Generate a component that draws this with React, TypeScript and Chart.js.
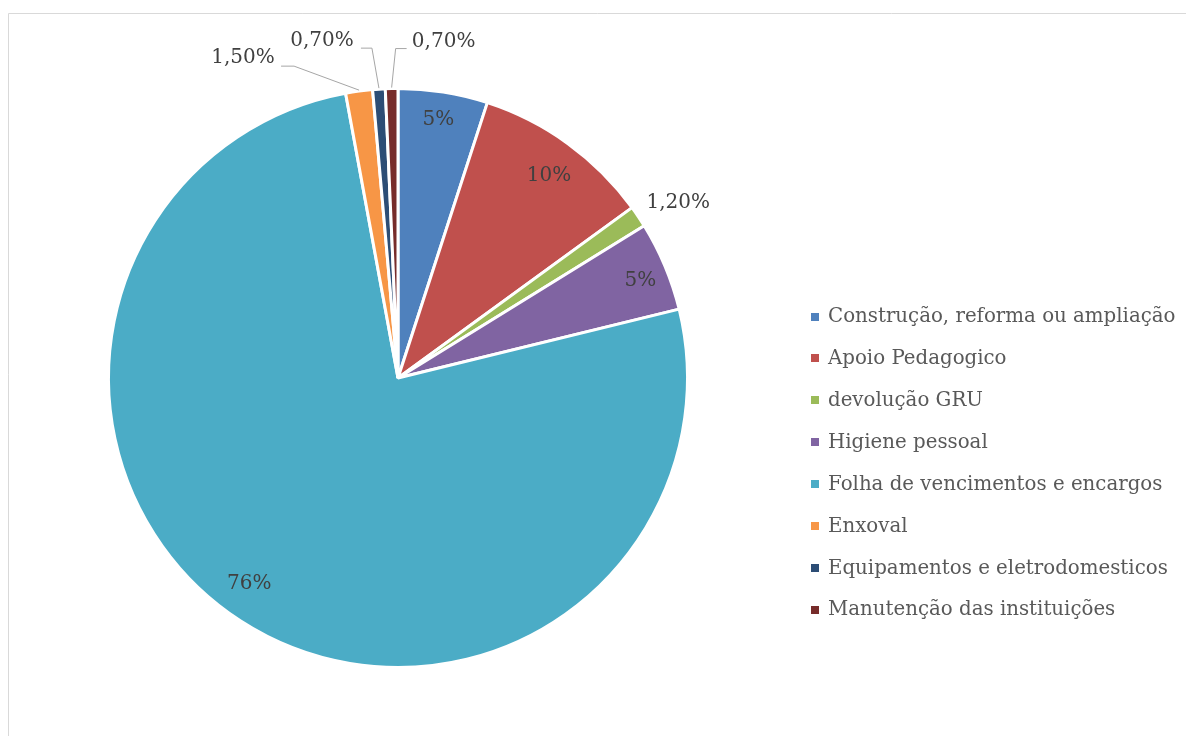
import React, { useEffect, useRef } from "react";
import { Chart, registerables } from "chart.js";

Chart.register(...registerables);

const categories = [
  "Construção, reforma ou ampliação",
  "Apoio Pedagogico",
  "devolução GRU",
  "Higiene pessoal",
  "Folha de vencimentos e encargos",
  "Enxoval",
  "Equipamentos e eletrodomesticos",
  "Manutenção das instituições",
];
const values = [5, 10, 1.2, 5, 76, 1.5, 0.7, 0.7];
const valueLabels = ["5%", "10%", "1,20%", "5%", "76%", "1,50%", "0,70%", "0,70%"];
const colors = ["#4F81BD", "#C0504D", "#9BBB59", "#8064A2", "#4BACC6", "#F79646", "#2C4D75", "#772C2A"];

const FONT = '"DejaVu Serif", serif';
const TEXT_COLOR = "#404040";

// label placement: inside at fraction of radius, or outside offset from arc edge with optional leader
type Place =
  | { kind: "in"; r: number; dx: number; dy: number }
  | { kind: "out"; dx: number; dy: number; leader?: { ax: number; ay: number; ex: number } };

const placements: Place[] = [
  { kind: "in", r: 0.89, dx: 0, dy: -4 },
  { kind: "in", r: 0.87, dx: 3, dy: 2 },
  { kind: "out", dx: 40, dy: -14 },
  { kind: "in", r: 0.9, dx: 2, dy: 4 },
  { kind: "in", r: 0.87, dx: -12, dy: -6 },
  { kind: "out", dx: -116, dy: -33, leader: { ax: 38, ay: 8, ex: 13 } },
  { kind: "out", dx: -57, dy: -48, leader: { ax: 39, ay: 7, ex: 11 } },
  { kind: "out", dx: 52, dy: -47, leader: { ax: -37, ay: 7, ex: -11 } },
];

const framePlugin = {
  id: "frame",
  beforeDraw(chart: any) {
    const ctx = chart.ctx;
    ctx.save();
    ctx.fillStyle = "#ffffff";
    ctx.fillRect(0, 0, chart.width, chart.height);
    ctx.strokeStyle = "#d9d9d9";
    ctx.lineWidth = 1;
    ctx.beginPath();
    ctx.moveTo(8.5, chart.height);
    ctx.lineTo(8.5, 13.5);
    ctx.lineTo(chart.width, 13.5);
    ctx.stroke();
    ctx.restore();
  },
};

const labelPlugin = {
  id: "sliceLabels",
  afterDatasetsDraw(chart: any) {
    const ctx = chart.ctx;
    const meta = chart.getDatasetMeta(0);
    ctx.save();
    ctx.font = `20px ${FONT}`;
    ctx.fillStyle = TEXT_COLOR;
    ctx.textAlign = "center";
    ctx.textBaseline = "middle";
    meta.data.forEach((arc: any, i: number) => {
      const p = arc.getProps(["x", "y", "startAngle", "endAngle", "outerRadius"], true);
      const mid = (p.startAngle + p.endAngle) / 2;
      const pl = placements[i];
      const text = valueLabels[i];
      if (pl.kind === "in") {
        const r = p.outerRadius * pl.r;
        ctx.fillText(text, p.x + r * Math.cos(mid) + pl.dx, p.y + r * Math.sin(mid) + pl.dy);
      } else {
        const exPt = p.x + p.outerRadius * Math.cos(mid);
        const eyPt = p.y + p.outerRadius * Math.sin(mid);
        const lx = exPt + pl.dx;
        const ly = eyPt + pl.dy;
        ctx.fillText(text, lx, ly);
        if (pl.leader) {
          const ax = lx + pl.leader.ax;
          const ay = ly + pl.leader.ay;
          ctx.save();
          ctx.strokeStyle = "#a6a6a6";
          ctx.lineWidth = 1;
          ctx.beginPath();
          ctx.moveTo(ax, ay);
          ctx.lineTo(ax + pl.leader.ex, ay);
          ctx.lineTo(exPt, eyPt - 1);
          ctx.stroke();
          ctx.restore();
        }
      }
    });
    ctx.restore();
  },
};

const legendPlugin = {
  id: "sideLegend",
  afterDraw(chart: any) {
    const ctx = chart.ctx;
    const labels = chart.data.labels as string[];
    const bg = chart.data.datasets[0].backgroundColor as string[];
    const x0 = 811;
    const y0 = 317;
    const step = 41.9;
    ctx.save();
    ctx.font = `19.8px ${FONT}`;
    ctx.textBaseline = "middle";
    ctx.textAlign = "left";
    labels.forEach((lab, i) => {
      const y = y0 + i * step;
      ctx.fillStyle = bg[i];
      ctx.fillRect(x0, Math.round(y - 4.5), 8, 8);
      ctx.fillStyle = "#595959";
      ctx.fillText(lab, x0 + 17, y);
    });
    ctx.restore();
  },
};

export default function App() {
  const ref = useRef<HTMLCanvasElement | null>(null);
  useEffect(() => {
    if (!ref.current) return;
    const chart = new Chart(ref.current, {
      type: "pie",
      data: {
        labels: categories,
        datasets: [
          {
            data: values,
            backgroundColor: colors,
            borderColor: "#ffffff",
            borderWidth: 3,
          },
        ],
      },
      options: {
        animation: false,
        responsive: false,
        maintainAspectRatio: false,
        layout: { padding: { top: 87, bottom: 67, left: 107, right: 497 } },
        plugins: {
          legend: { display: false },
          tooltip: { enabled: false },
        },
      },
      plugins: [framePlugin, labelPlugin, legendPlugin],
    });
    return () => chart.destroy();
  }, []);
  return (
    <div style={{ position: "fixed", left: 0, top: 0, width: 1186, height: 736, background: "#fff" }}>
      <canvas ref={ref} width={1186} height={736} style={{ display: "block" }} />
    </div>
  );
}
